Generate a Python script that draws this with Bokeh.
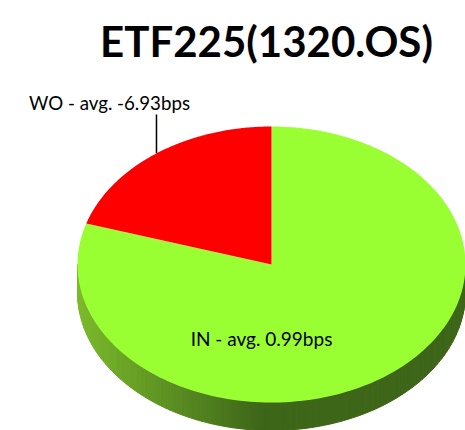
import numpy as np
from bokeh.plotting import figure
from bokeh.models import Label
from bokeh.core.properties import value
from bokeh.embed import file_html
from bokeh.resources import INLINE

title_text = "ETF225(1320.OS)"
categories = ["IN", "WO"]
shares = [79.8, 20.2]
avg_bps = [0.99, -6.93]
colors = ["#99FF33", "#FF0000"]

W, H = 465, 430
p = figure(width=W, height=H, x_range=(0, W), y_range=(0, H),
           output_backend="svg", toolbar_location=None, min_border=0)
p.axis.visible = False
p.grid.visible = False
p.outline_line_color = None

cx, cy = 271, 166
rx, ry = 194, 138
depth = 28
FONT = "Lato"

# side of the 3D pie (front half), gradient light -> dark
light = np.array([0x7C, 0xBB, 0x2C])
dark = np.array([0x3E, 0x66, 0x19])
n = 120
th = np.linspace(np.pi, 2 * np.pi, n + 1)
xs, ys, cols = [], [], []
for i in range(n):
    a1, a2 = th[i], th[i + 1]
    x1, x2 = cx + rx * np.cos(a1), cx + rx * np.cos(a2)
    y1, y2 = cy + ry * np.sin(a1), cy + ry * np.sin(a2)
    xs.append([x1, x2, x2, x1])
    ys.append([y1, y2, y2 - depth, y1 - depth])
    t = np.clip(((x1 + x2) / 2 - (cx - rx)) / (rx * 0.95), 0, 1)
    c = (light * (1 - t) + dark * t).astype(int)
    cols.append("#%02x%02x%02x" % tuple(c))
p.patches(xs, ys, fill_color=cols, line_color=cols, line_width=1)

# top face wedges, clockwise from 12 o'clock
total = sum(shares)
start = np.pi / 2
mids = []
for share, col in zip(shares, colors):
    sweep = 2 * np.pi * share / total
    ang = np.linspace(start, start - sweep, 200)
    px = [cx] + list(cx + rx * np.cos(ang))
    py = [cy] + list(cy + ry * np.sin(ang))
    p.patch(px, py, fill_color=col, line_color=None)
    mids.append(start - sweep / 2)
    start -= sweep

labels = [f"{c} - avg. {a:.2f}bps" for c, a in zip(categories, avg_bps)]

# WO label with leader line
m = mids[1]
lx, ly = cx + rx * np.cos(m), cy + ry * np.sin(m)
p.line([lx, lx], [ly, 316], line_color="black", line_width=1.5)
p.add_layout(Label(x=109, y=328, text=labels[1], text_align="center",
                   text_baseline="middle", text_font=FONT,
                   text_font_size="18.7px", text_color="black"))

# IN label
p.add_layout(Label(x=261, y=92, text=labels[0], text_align="center",
                   text_baseline="middle", text_font=FONT,
                   text_font_size="19px", text_color="black"))

# title
p.add_layout(Label(x=266, y=390, text=title_text, text_align="center",
                   text_baseline="middle", text_font=FONT,
                   text_font_size="42px", text_font_style="bold",
                   text_color="black"))

open("out.html", "w").write(file_html(p, INLINE))
